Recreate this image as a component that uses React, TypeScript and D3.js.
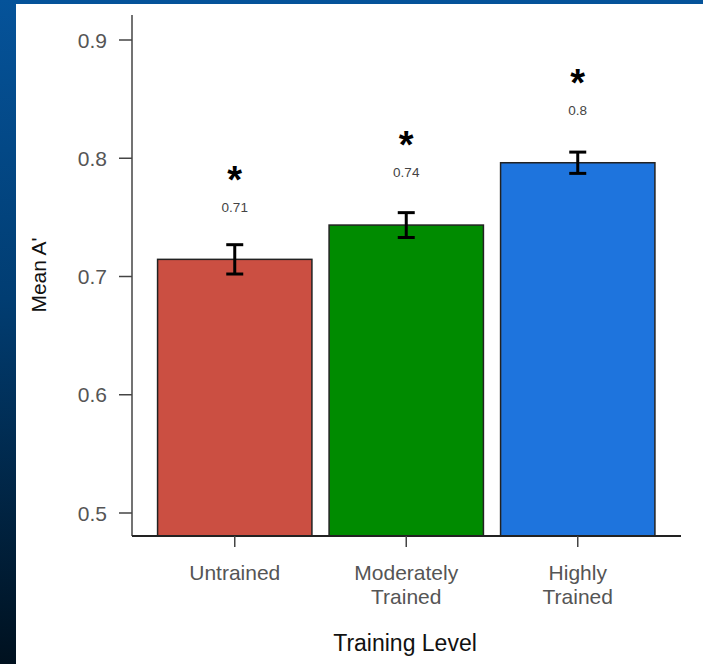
import React from "react";
import * as d3 from "d3";

// Mean A' by training level, with standard errors
const levels = ["Untrained", "Moderately Trained", "Highly Trained"];
const levelLines = [["Untrained"], ["Moderately", "Trained"], ["Highly", "Trained"]];
const meanA = [0.7145, 0.7435, 0.7962];
const stdErr = [0.0124, 0.0105, 0.009];
const barColors = ["#CB4F42", "#008B00", "#1E74DD"];
const yTicks = [0.5, 0.6, 0.7, 0.8, 0.9];

const W = 703;
const H = 664;
const FONT = "'Liberation Sans', Arial, sans-serif";

export default function App() {
  const y = d3.scaleLinear().domain([0.5, 0.9]).range([513, 40]);
  const x = d3
    .scaleBand<string>()
    .domain(levels)
    .range([149, 663.5])
    .paddingInner(0.1)
    .paddingOuter(0.05);

  const axisLeft = 132;
  const axisBottom = 536;
  const axisRight = 681;
  const axisTop = 15;

  return (
    <svg
      width={W}
      height={H}
      style={{ position: "absolute", left: 0, top: 0, display: "block" }}
      fontFamily={FONT}
    >
      <defs>
        <linearGradient id="bg" x1="0" y1="0" x2="0" y2="1">
          <stop offset="0" stopColor="#05539a" />
          <stop offset="0.45" stopColor="#013d72" />
          <stop offset="1" stopColor="#00111f" />
        </linearGradient>
      </defs>
      <rect x={0} y={0} width={W} height={H} fill="url(#bg)" />
      <rect x={16} y={4} width={W - 16} height={H - 4} fill="#ffffff" />

      {/* bars */}
      {levels.map((lv, i) => (
        <rect
          key={lv}
          x={x(lv)!}
          y={y(meanA[i])}
          width={x.bandwidth()}
          height={axisBottom - y(meanA[i])}
          fill={barColors[i]}
          stroke="#222"
          strokeWidth={1.5}
        />
      ))}

      {/* error bars */}
      {levels.map((lv, i) => {
        const cx = x(lv)! + x.bandwidth() / 2;
        const top = y(meanA[i] + stdErr[i]);
        const bot = y(meanA[i] - stdErr[i]);
        return (
          <g key={lv} stroke="#000" strokeWidth={3}>
            <line x1={cx} x2={cx} y1={top} y2={bot} />
            <line x1={cx - 8.5} x2={cx + 8.5} y1={top} y2={top} />
            <line x1={cx - 8.5} x2={cx + 8.5} y1={bot} y2={bot} />
          </g>
        );
      })}

      {/* value labels and significance stars */}
      {levels.map((lv, i) => {
        const cx = x(lv)! + x.bandwidth() / 2;
        return (
          <g key={lv} textAnchor="middle">
            <text
              x={cx}
              y={y(meanA[i] + 0.0445)}
              dy="0.36em"
              fontSize={13.5}
              fill="#444"
            >
              {String(Math.round(meanA[i] * 100) / 100)}
            </text>
            <text
              x={cx}
              y={y(meanA[i] + 0.0725)}
              dy="0.5em"
              fontSize={38}
              fontWeight="bold"
              fill="#000"
            >
              *
            </text>
          </g>
        );
      })}

      {/* axes */}
      <line x1={axisLeft} x2={axisLeft} y1={axisTop} y2={axisBottom} stroke="#444" strokeWidth={1.5} />
      <line x1={axisLeft} x2={axisRight} y1={axisBottom} y2={axisBottom} stroke="#222" strokeWidth={2} />

      {yTicks.map((t) => (
        <g key={t}>
          <line x1={axisLeft - 13} x2={axisLeft} y1={y(t)} y2={y(t)} stroke="#444" strokeWidth={1.5} />
          <text
            x={107}
            y={y(t)}
            dy="0.36em"
            textAnchor="end"
            fontSize={21}
            fill="#555"
          >
            {d3.format(".1f")(t)}
          </text>
        </g>
      ))}

      {levels.map((lv, i) => {
        const cx = x(lv)! + x.bandwidth() / 2;
        return (
          <g key={lv}>
            <line x1={cx} x2={cx} y1={axisBottom} y2={axisBottom + 11} stroke="#444" strokeWidth={1.5} />
            <text textAnchor="middle" fontSize={21} fill="#555">
              {levelLines[i].map((ln, j) => (
                <tspan key={j} x={cx} y={580 + j * 24}>
                  {ln}
                </tspan>
              ))}
            </text>
          </g>
        );
      })}

      <text x={405} y={651} textAnchor="middle" fontSize={23} fill="#111">
        Training Level
      </text>
      <text
        transform={`translate(46,275) rotate(-90)`}
        textAnchor="middle"
        fontSize={21}
        fill="#111"
      >
        Mean A'
      </text>
    </svg>
  );
}
